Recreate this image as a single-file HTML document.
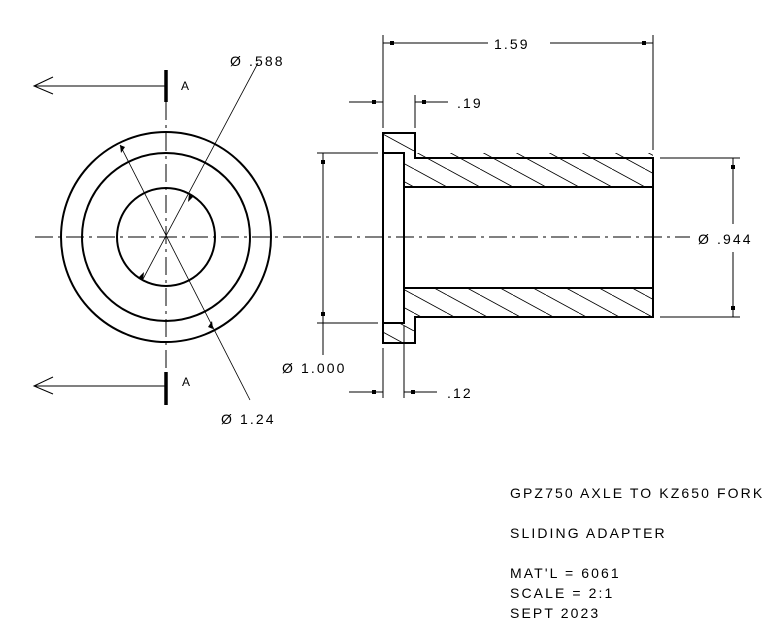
<!DOCTYPE html>
<html><head><meta charset="utf-8"><style>
html,body{margin:0;padding:0;background:#fff}
svg{display:block}
text{font-family:"Liberation Sans",sans-serif;font-size:14px;letter-spacing:2.1px;fill:#000}
</style></head><body>
<svg width="780" height="635" viewBox="0 0 780 635" xmlns="http://www.w3.org/2000/svg">
<defs>
<pattern id="h" patternUnits="userSpaceOnUse" width="33" height="18" patternTransform="translate(414,133)">
<path d="M-33,0 L0,18 M0,0 L33,18 M33,0 L66,18" stroke="#000" stroke-width="0.8"/>
</pattern>
</defs>
<g fill="none" stroke="#000">
<circle cx="166" cy="237" r="105" stroke-width="2"/>
<circle cx="166" cy="237" r="84" stroke-width="2"/>
<circle cx="166" cy="237" r="49" stroke-width="2"/>
<line x1="35" y1="237" x2="305" y2="237" stroke-width="1" stroke-dasharray="18,5,3,5"/>
<line x1="166" y1="102" x2="166" y2="372" stroke-width="1" stroke-dasharray="18,5,3,5"/>
<line x1="166" y1="70" x2="166" y2="102" stroke-width="3.5"/>
<line x1="166" y1="372" x2="166" y2="405" stroke-width="3.5"/>
<line x1="34" y1="86" x2="166" y2="86" stroke-width="1"/>
<path d="M53,77 L34,86 L53,94" stroke-width="1"/>
<line x1="34" y1="386" x2="166" y2="386" stroke-width="1"/>
<path d="M53,377 L34,386 L53,394" stroke-width="1"/>
<line x1="258" y1="63" x2="143" y2="279" stroke-width="0.8"/>
<line x1="120" y1="145" x2="250" y2="400" stroke-width="0.8"/>
</g>
<g fill="#000">
<path d="M189,194 l-1,8 l5,-5 z"/>
<path d="M143,280 l1,-8 l-5,5 z"/>
<path d="M120,145 l1,8 l4,-6 z"/>
<path d="M213,329 l-1,-8 l-4,6 z"/>
</g>
<rect x="383" y="133" width="32" height="20" fill="url(#h)"/>
<rect x="383" y="323" width="32" height="20" fill="url(#h)"/>
<rect x="404" y="153" width="249" height="34" fill="url(#h)"/>
<rect x="404" y="288" width="249" height="29" fill="url(#h)"/>
<g fill="none" stroke="#000" stroke-width="2">
<path d="M383,133 H415 V158 H653 V317 H415 V343 H383 Z"/>
<path d="M383,153 H404 V323 H383"/>
<line x1="404" y1="187" x2="653" y2="187"/>
<line x1="404" y1="288" x2="653" y2="288"/>
</g>
<g fill="none" stroke="#000" stroke-width="1">
<line x1="303" y1="237" x2="690" y2="237" stroke-dasharray="18,5,3,5"/>
<line x1="383" y1="35" x2="383" y2="128"/>
<line x1="653" y1="35" x2="653" y2="150"/>
<line x1="383" y1="43" x2="488" y2="43"/>
<line x1="550" y1="43" x2="653" y2="43"/>
<line x1="415" y1="95" x2="415" y2="128"/>
<line x1="349" y1="102" x2="383" y2="102"/>
<line x1="415" y1="102" x2="448" y2="102"/>
<line x1="317" y1="153" x2="378" y2="153"/>
<line x1="317" y1="323" x2="378" y2="323"/>
<line x1="323" y1="153" x2="323" y2="355"/>
<line x1="383" y1="348" x2="383" y2="398"/>
<line x1="404" y1="326" x2="404" y2="398"/>
<line x1="349" y1="392" x2="383" y2="392"/>
<line x1="404" y1="392" x2="437" y2="392"/>
<line x1="660" y1="158" x2="740" y2="158"/>
<line x1="660" y1="317" x2="740" y2="317"/>
<line x1="733" y1="158" x2="733" y2="224"/>
<line x1="733" y1="252" x2="733" y2="317"/>
</g>
<g fill="#000">
<rect x="390" y="41" width="4" height="4"/><rect x="642" y="41" width="4" height="4"/>
<rect x="372" y="100" width="4" height="4"/><rect x="422" y="100" width="4" height="4"/>
<rect x="321" y="160" width="4" height="4"/><rect x="321" y="312" width="4" height="4"/>
<rect x="372" y="390" width="4" height="4"/><rect x="411" y="390" width="4" height="4"/>
<rect x="731" y="165" width="4" height="4"/><rect x="731" y="306" width="4" height="4"/>
</g>
<g>
<text x="230" y="66">Ø .588</text>
<text x="181" y="90" style="font-size:12px">A</text>
<text x="182" y="386" style="font-size:12px">A</text>
<text x="221" y="424">Ø 1.24</text>
<text x="494" y="49">1.59</text>
<text x="457" y="108">.19</text>
<text x="282" y="373">Ø 1.000</text>
<text x="447" y="398">.12</text>
<text x="698" y="244">Ø .944</text>
<text x="510" y="498">GPZ750 AXLE TO KZ650 FORK</text>
<text x="510" y="538">SLIDING ADAPTER</text>
<text x="510" y="578">MAT'L = 6061</text>
<text x="510" y="598">SCALE = 2:1</text>
<text x="510" y="618">SEPT 2023</text>
</g>
</svg>
</body></html>
